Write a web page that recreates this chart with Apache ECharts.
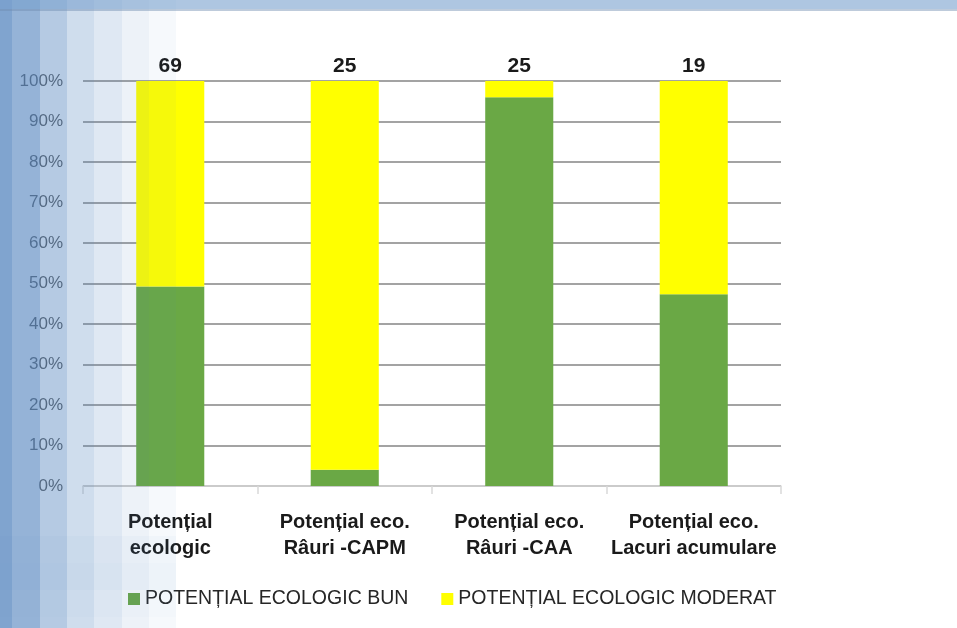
<!DOCTYPE html>
<html>
<head>
<meta charset="utf-8">
<script src="https://cdn.jsdelivr.net/npm/echarts@6/dist/echarts.min.js"></script>
<style>html,body{margin:0;padding:0;background:#fff}#c{width:957px;height:628px}</style>
</head>
<body>
<div id="c"></div>
<script>
const categories = ['Potențial\necologic', 'Potențial eco.\nRâuri -CAPM', 'Potențial eco.\nRâuri -CAA', 'Potențial eco.\nLacuri acumulare'];
const seriesNames = ['POTENȚIAL ECOLOGIC BUN', 'POTENȚIAL ECOLOGIC MODERAT'];
const bunCounts = [34, 1, 24, 9];
const moderatCounts = [35, 24, 1, 10];
const totals = [69, 25, 25, 19];
const yTicks = [0, 10, 20, 30, 40, 50, 60, 70, 80, 90, 100];

const bunPct = bunCounts.map((v, i) => v / totals[i] * 100);
const modPct = moderatCounts.map((v, i) => v / totals[i] * 100);

// decorative left mosaic (columns) and top band
const cols = [[0,12,0.72],[12,28,0.6],[40,27,0.42],[67,27,0.27],[94,28,0.18],[122,27,0.1],[149,27,0.05]];
const graphics = [];
cols.forEach(c => {
  graphics.push({type:'rect', z:100, silent:true, shape:{x:c[0], y:0, width:c[1], height:628}, style:{fill:'rgba(79,129,189,' + c[2] + ')'}});
});
[[536,0.03],[563,0.05],[590,0.02]].forEach(r => {
  graphics.push({type:'rect', z:100, silent:true, shape:{x:0, y:r[0], width:176, height:27}, style:{fill:'rgba(79,129,189,' + r[1] + ')'}});
});
graphics.push({type:'rect', z:101, silent:true, shape:{x:0, y:0, width:957, height:9}, style:{fill:'rgba(120,160,205,0.6)'}});
graphics.push({type:'rect', z:101, silent:true, shape:{x:0, y:9, width:957, height:2}, style:{fill:'rgba(110,140,175,0.45)'}});

const chart = echarts.init(document.getElementById('c'));
chart.setOption({
  animation: false,
  backgroundColor: '#ffffff',
  graphic: graphics,
  grid: {left: 83, right: 176, top: 81, bottom: 142},
  legend: {
    data: seriesNames,
    left: 123, top: 584,
    itemWidth: 12, itemHeight: 12, itemGap: 33, itemStyle: {borderWidth: 0},
    icon: 'rect',
    textStyle: {fontFamily: 'Liberation Sans', fontSize: 19.5, color: '#262626'}
  },
  xAxis: {
    type: 'category',
    data: categories,
    axisLine: {lineStyle: {color: '#d9d9d9', width: 1.5}},
    axisTick: {show: true, length: 8, lineStyle: {color: '#d9d9d9', width: 1.5}},
    axisLabel: {fontFamily: 'Liberation Sans', fontWeight: 'bold', fontSize: 20, color: '#1a1a1a', lineHeight: 26, margin: 23, interval: 0}
  },
  yAxis: {
    type: 'value', min: 0, max: 100, interval: 10,
    axisLine: {show: false}, axisTick: {show: false},
    splitLine: {lineStyle: {color: '#a3a3a3', width: 2}},
    axisLabel: {formatter: v => yTicks.includes(v) ? v + '%' : '', fontFamily: 'Liberation Sans', fontSize: 17, color: '#595959', margin: 20}
  },
  series: [
    {name: seriesNames[0], type: 'bar', stack: 's', barWidth: '39%', data: bunPct, itemStyle: {color: '#6aa845'}},
    {name: seriesNames[1], type: 'bar', stack: 's', data: modPct, itemStyle: {color: '#ffff00'},
     label: {show: true, position: 'top', distance: 4, formatter: p => totals[p.dataIndex], fontFamily: 'Liberation Sans', fontWeight: 'bold', fontSize: 21, color: '#1a1a1a'}}
  ]
});
</script>
</body>
</html>
